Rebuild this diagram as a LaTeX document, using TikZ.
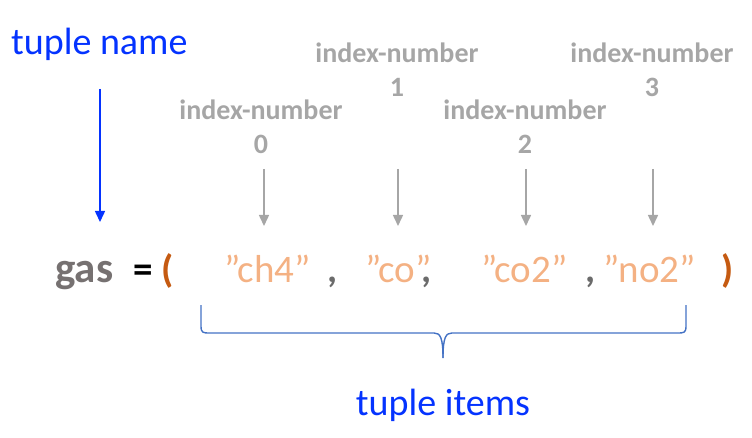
\documentclass[tikz,border=0pt]{standalone}
\usepackage{fontspec}
\setmainfont{Carlito}
\usetikzlibrary{arrows.meta}
\definecolor{tblue}{HTML}{0433FF}
\definecolor{idxgray}{HTML}{A6A6A6}
\definecolor{gasgray}{HTML}{767171}
\definecolor{commagray}{HTML}{6B6B6B}
\definecolor{paren}{HTML}{C55A11}
\definecolor{strorange}{HTML}{F4B183}
\definecolor{bracecol}{HTML}{4472C4}
\tikzset{
  lbl/.style={inner sep=0pt, anchor=base, text=tblue, font=\fontsize{38}{42}\selectfont},
  idx/.style={inner sep=0pt, anchor=base, text=idxgray, font=\bfseries\fontsize{28}{32}\selectfont},
  str/.style={inner sep=0pt, anchor=base west, text=strorange, font=\fontsize{39}{44}\selectfont},
  sym/.style={inner sep=0pt, anchor=base west, font=\bfseries\fontsize{39}{44}\selectfont},
  comma/.style={inner sep=0pt, anchor=base west, text=commagray, font=\bfseries\fontsize{39}{44}\selectfont},
  idxarrow/.style={draw=idxgray, line width=1.5pt, -{Triangle[length=11pt,width=10pt]}},
  namearrow/.style={draw=tblue, line width=1.5pt, -{Triangle[length=11pt,width=10pt]}},
  bracestyle/.style={draw=bracecol, line width=1.4pt, line join=round},
}
\begin{document}
\begin{tikzpicture}[x=1pt,y=-1pt]
\useasboundingbox (0,0) rectangle (752,438);
% labels
\node[lbl, anchor=base west] (tname) at (11,55) {tuple name};
\node[idx] (i0a) at (261,120) {index-number};
\node[idx] (i0b) at (261,154) {0};
\node[idx] (i1a) at (397,63) {index-number};
\node[idx] (i1b) at (397,97) {1};
\node[idx] (i2a) at (525,120) {index-number};
\node[idx] (i2b) at (525,154) {2};
\node[idx] (i3a) at (652,63) {index-number};
\node[idx] (i3b) at (652,97) {3};
% arrows
\coordinate (n0) at (100,89); \coordinate (n1) at (100,222);
\draw[namearrow] (n0) -- (n1);
\coordinate (a0s) at (264,169); \coordinate (a0e) at (264,226);
\coordinate (a1s) at (398,169); \coordinate (a1e) at (398,226);
\coordinate (a2s) at (526,169); \coordinate (a2e) at (526,226);
\coordinate (a3s) at (653,169); \coordinate (a3e) at (653,226);
\draw[idxarrow] (a0s) -- (a0e);
\draw[idxarrow] (a1s) -- (a1e);
\draw[idxarrow] (a2s) -- (a2e);
\draw[idxarrow] (a3s) -- (a3e);
% main line
\node[sym, text=gasgray, font=\bfseries\fontsize{43}{48}\selectfont] (gas) at (55,283) {gas};
\node[sym, text=black] (eq) at (133,283) {=};
\node[sym, text=paren] (lp) at (161,283) {(};
\node[str] (s0) at (224,283) {”ch4”};
\node[comma] (c0) at (327,283) {,};
\node[str] (s1) at (365,283) {”co”};
\node[comma] (c1) at (421,283) {,};
\node[str] (s2) at (481,283) {”co2”};
\node[comma] (c2) at (585,283) {,};
\node[str] (s3) at (603,283) {”no2”};
\node[sym, text=paren] (rp) at (721,283) {)};
% brace
\coordinate (bl) at (201,305);
\coordinate (bm) at (443,358);
\coordinate (br) at (686,305);
\draw[bracestyle] (bl) -- (201,326) .. controls (201,333) and (203,333) .. (210,333)
  -- (434,333) .. controls (440,333) and (443,337) .. (bm);
\draw[bracestyle] (br) -- (686,326) .. controls (686,333) and (684,333) .. (677,333)
  -- (452,333) .. controls (446,333) and (443,337) .. (bm);
\node[lbl, anchor=base] (titems) at (443,415) {tuple items};
\end{tikzpicture}
\end{document}
